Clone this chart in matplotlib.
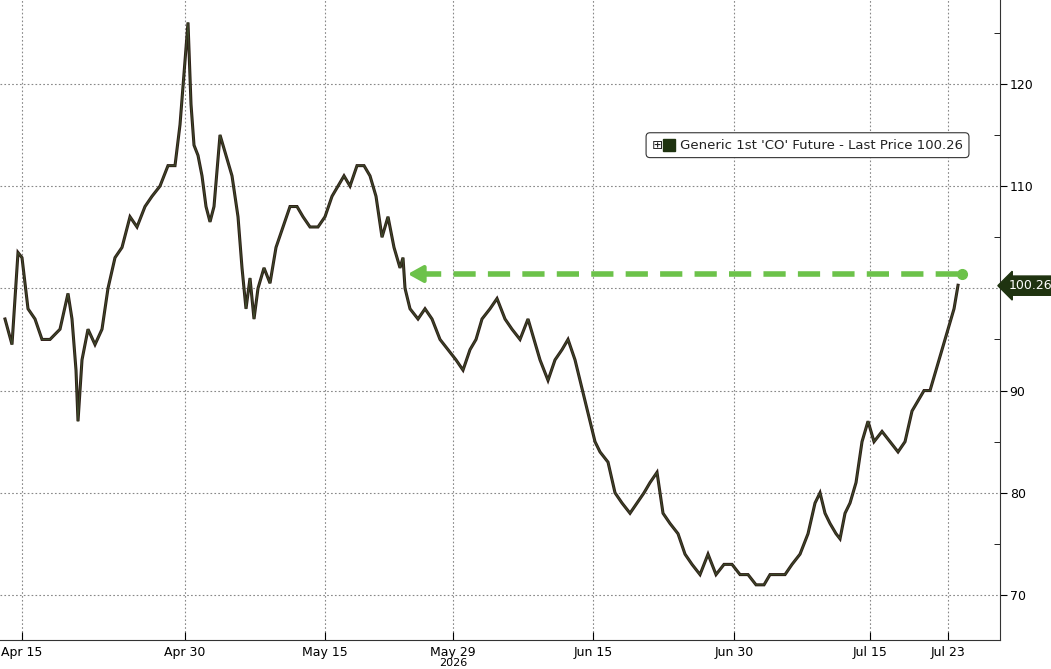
import numpy as np
import matplotlib.pyplot as plt

# x is in "trading time" units (pixel-proportional session axis)
tick_pos = [22, 185, 325, 453, 593, 734, 870, 948]
tick_labels = ["Apr 15", "Apr 30", "May 15", "May 29", "Jun 15", "Jun 30", "Jul 15", "Jul 23"]

x = [5, 12, 18, 22, 28, 35, 42, 50, 60, 68, 72, 76, 78, 82, 88, 95, 102, 108, 115, 122,
     130, 137, 145, 152, 160, 168, 175, 180, 184, 188, 191, 194, 198, 202, 206, 210, 214,
     220, 226, 232, 238, 242, 246, 250, 254, 258, 264, 270, 276, 283, 290, 297, 303, 310,
     318, 325, 332, 338, 344, 350, 357, 364, 370, 376, 382, 388, 394, 400, 403, 405, 410,
     418, 425, 432, 440, 448, 456, 463, 470, 476, 482, 490, 497, 505, 512, 520, 528, 534,
     540, 548, 555, 562, 568, 575, 580, 585, 590, 595, 600, 608, 615, 622, 630, 637, 644,
     650, 657, 663, 670, 678, 685, 692, 700, 708, 716, 724, 732, 740, 748, 756, 764, 770,
     778, 785, 792, 800, 808, 815, 820, 825, 830, 836, 840, 845, 850, 856, 862, 868, 874,
     882, 890, 898, 905, 912, 918, 924, 930, 936, 942, 948, 954, 958]
price = [97, 94.5, 103.5, 103, 98, 97, 95, 95, 96, 99.5, 97, 92, 87, 93, 96, 94.5, 96, 100,
         103, 104, 107, 106, 108, 109, 110, 112, 112, 116, 121, 126, 118, 114, 113, 111, 108,
         106.5, 108, 115, 113, 111, 107, 102, 98, 101, 97, 100, 102, 100.5, 104, 106, 108,
         108, 107, 106, 106, 107, 109, 110, 111, 110, 112, 112, 111, 109, 105, 107, 104, 102,
         103, 100, 98, 97, 98, 97, 95, 94, 93, 92, 94, 95, 97, 98, 99, 97, 96, 95, 97, 95, 93,
         91, 93, 94, 95, 93, 91, 89, 87, 85, 84, 83, 80, 79, 78, 79, 80, 81, 82, 78, 77, 76,
         74, 73, 72, 74, 72, 73, 73, 72, 72, 71, 71, 72, 72, 72, 73, 74, 76, 79, 80, 78, 77,
         76, 75.5, 78, 79, 81, 85, 87, 85, 86, 85, 84, 85, 88, 89, 90, 90, 92, 94, 96, 98, 100.3]
last_price = 100.26
arrow_level = 101.4
arrow_from, arrow_to = 962, 405

fig = plt.figure(figsize=(10.51, 6.69), dpi=100)
ax = fig.add_axes([0.0, 0.0433, 0.9515, 0.9567])

ax.plot(x, price, color="#2e1f17", lw=2.2, solid_joinstyle="miter")
ax.plot(x, price, color="#3d4a2a", lw=0.8)

ax.set_xlim(0, 1000)
ax.set_ylim(65.6, 128.2)

ax.yaxis.tick_right()
ax.set_yticks([70, 80, 90, 100, 110, 120])
ax.set_yticklabels(["70", "80", "90", "", "110", "120"])
ax.set_yticks([75, 85, 95, 105, 115, 125], minor=True)
ax.tick_params(axis="y", which="major", length=5, direction="out", labelsize=9, pad=2)
ax.tick_params(axis="y", which="minor", length=4, direction="in")
ax.set_xticks(tick_pos)
ax.set_xticklabels(tick_labels)
ax.tick_params(axis="x", length=6, direction="in", labelsize=9, pad=4)
ax.grid(True, which="major", color="#888888", linestyle=(0, (1.5, 2)), lw=0.8)
for s in ["top", "left"]:
    ax.spines[s].set_visible(False)
ax.spines["bottom"].set_color("#333333")
ax.spines["right"].set_color("#333333")

# green dashed arrow
ax.plot([arrow_to + 14, arrow_from], [arrow_level, arrow_level], color="#6cc24a", lw=4,
        linestyle=(0, (4, 2.2)))
ax.plot([arrow_from], [arrow_level], "o", color="#6cc24a", ms=7)
ax.annotate("", xy=(arrow_to, arrow_level), xytext=(arrow_to + 20, arrow_level),
            arrowprops=dict(arrowstyle="-|>,head_length=0.9,head_width=0.5", color="#6cc24a", lw=3))

# last price label
ax.annotate(f"{last_price:.2f}", xy=(1000, last_price), xycoords="data",
            xytext=(6, 0), textcoords="offset points", va="center", ha="left",
            color="white", fontsize=9, annotation_clip=False,
            bbox=dict(boxstyle="larrow,pad=0.25", fc="#1f3310", ec="#1f3310"))

# legend
ax.text(652, 114.0, "\u229e    Generic 1st 'CO' Future - Last Price 100.26", fontsize=9.5,
        color="#222222", va="center",
        bbox=dict(boxstyle="round,pad=0.45,rounding_size=0.3", fc="white", ec="#333333", lw=0.8))
ax.plot([669], [114.0], "s", color="#1f3310", ms=8, zorder=5)

fig.text(453 / 1051, 0.002, "2026", fontsize=8, ha="center", va="bottom")

fig.savefig("out.png", dpi=100)
